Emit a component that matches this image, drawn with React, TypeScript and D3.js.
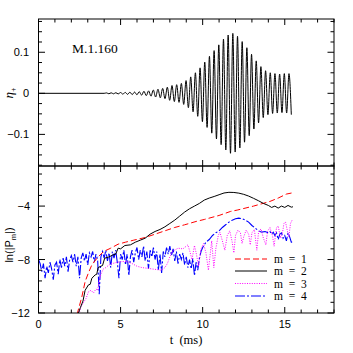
import * as d3 from "d3";
import React, { useRef, useEffect } from "react";

const W = 353,
  H = 353;
const left = 38.5,
  right = 334,
  topY = 19,
  midY = 166,
  botY = 313;

// top panel: waveform extrema (alternating +/-), sampled every half period from t = 4.0 ms
const etaT0 = 4.0;
const etaHalfPeriod = 0.1425;
const etaPeaks = [
  0.001, -0.001, 0.0012, -0.0012, 0.0015, -0.0015, 0.002, -0.002, 0.0022, -0.0025,
  0.0027, -0.003, 0.003, -0.0035, 0.004, -0.0045, 0.005, -0.0055, 0.006, -0.007,
  0.008, -0.009, 0.01, -0.011, 0.012, -0.013, 0.015, -0.017, 0.019, -0.02,
  0.021, -0.022, 0.024, -0.027, 0.031, -0.035, 0.04, -0.045, 0.05, -0.056,
  0.062, -0.069, 0.076, -0.083, 0.09, -0.097, 0.104, -0.111, 0.118, -0.125,
  0.132, -0.138, 0.142, -0.146, 0.146, -0.143, 0.139, -0.133, 0.126, -0.119,
  0.111, -0.103, 0.095, -0.087, 0.079, -0.072, 0.065, -0.059, 0.055, -0.052,
  0.05, -0.049, 0.048, -0.048, 0.047, -0.047, 0.048, -0.048, 0.048, -0.052,
];

// bottom panel: ln(|P_m|)
const m1T = [2.35, 2.64, 2.84, 3.04, 3.25, 3.56, 3.96, 4.4, 4.85, 5.3, 5.8, 6.5, 7.1, 7.7, 8.3, 8.9, 9.6, 10.1, 11.0, 11.7, 12.1, 13.1, 14.1, 14.6, 15.1, 15.5];
const m1V = [-12.1, -10.8, -9.65, -9.0, -8.4, -7.9, -7.4, -7.15, -6.85, -6.7, -6.55, -6.35, -6.1, -5.85, -5.6, -5.4, -5.15, -5.0, -4.7, -4.4, -4.3, -4.0, -3.65, -3.4, -3.1, -3.0];

const m2T = [2.4, 2.55, 2.71, 2.84, 3.04, 3.15, 3.25, 3.45, 3.55, 3.63, 3.8, 3.9, 4.03, 4.3, 4.54, 4.7, 4.85, 5.0, 5.26, 5.6, 5.9, 6.2, 6.5, 6.8, 7.1, 7.4, 7.7, 8.0, 8.3, 8.6, 8.9, 9.2, 9.5, 9.8, 10.1, 10.4, 10.7, 11.0, 11.3, 11.6, 11.9, 12.2, 12.5, 12.8, 13.1, 13.4, 13.7, 14.0, 14.2, 14.4, 14.6, 14.8, 15.0, 15.2, 15.4, 15.5];
const m2V = [-12.1, -11.6, -11.1, -10.3, -9.9, -9.85, -9.4, -9.15, -9.1, -8.6, -8.5, -8.45, -7.9, -7.8, -7.65, -7.6, -7.15, -7.2, -6.95, -6.9, -6.7, -6.55, -6.4, -6.1, -5.9, -5.75, -5.55, -5.3, -5.05, -4.75, -4.45, -4.2, -4.0, -3.8, -3.55, -3.4, -3.28, -3.15, -3.02, -2.97, -2.98, -3.03, -3.12, -3.25, -3.42, -3.6, -3.8, -3.95, -4.1, -4.0, -4.15, -4.0, -4.1, -3.95, -4.08, -4.05];

const m3T = [2.45, 2.6, 2.75, 2.9, 3.05, 3.2, 3.35, 3.5, 3.6, 3.7, 3.8, 3.95, 4.1, 4.3, 4.5, 4.8, 5.1, 5.4, 5.7, 6.0, 6.3, 6.6, 6.9, 7.2, 7.5, 7.7, 7.85, 8.0, 8.15, 8.5, 8.8, 9.1, 9.22, 9.35, 9.5, 9.62, 9.75, 9.9, 10.05, 10.2, 10.35, 10.55, 10.68, 10.8, 10.95, 11.05, 11.2, 11.35, 11.5, 11.65, 11.8, 11.9, 12.0, 12.15, 12.3, 12.4, 12.5, 12.65, 12.8, 12.9, 13.0, 13.15, 13.3, 13.4, 13.55, 13.7, 13.85, 13.95, 14.1, 14.25, 14.35, 14.5, 14.6, 14.75, 14.85, 14.95, 15.05, 15.15, 15.25, 15.35, 15.45];
const m3V = [-12.1, -11.5, -11.2, -10.9, -10.4, -10.3, -10.5, -10.2, -10.3, -9.6, -9.1, -8.7, -8.6, -8.4, -8.3, -8.2, -8.15, -8.15, -8.3, -8.5, -8.6, -8.65, -8.7, -8.75, -8.8, -8.6, -8.3, -7.8, -7.4, -7.15, -7.2, -6.9, -7.4, -8.0, -6.95, -7.6, -8.5, -7.2, -6.8, -7.5, -8.8, -6.6, -8.6, -7.2, -6.2, -5.95, -6.6, -7.3, -6.2, -5.85, -6.7, -7.5, -6.2, -5.8, -6.0, -6.8, -6.3, -5.8, -6.1, -6.9, -6.0, -5.75, -7.3, -6.0, -5.7, -6.4, -6.9, -5.9, -5.6, -6.2, -7.0, -5.6, -5.5, -6.4, -6.1, -5.3, -5.2, -5.8, -6.3, -5.3, -5.05];

const m4T = [
  0.0, 0.1, 0.2, 0.3, 0.4, 0.5, 0.6, 0.7, 0.8, 0.9, 1.0, 1.1, 1.2, 1.3, 1.4, 1.5, 1.6, 1.7, 1.8, 1.9,
  2.0, 2.1, 2.2, 2.3, 2.4, 2.5, 2.6, 2.7, 2.8, 2.9, 3.0, 3.1, 3.2, 3.3, 3.4, 3.5, 3.6, 3.7, 3.8, 3.9,
  4.0, 4.1, 4.2, 4.3, 4.4, 4.5, 4.6, 4.7, 4.8, 4.9, 5.0, 5.1, 5.2, 5.3, 5.4, 5.5, 5.6, 5.7, 5.8, 5.9,
  6.0, 6.1, 6.2, 6.3, 6.4, 6.5, 6.6, 6.7, 6.8, 6.9, 7.0, 7.1, 7.2, 7.3, 7.4, 7.5, 7.6, 7.7, 7.8, 7.9,
  8.0, 8.1, 8.2, 8.3, 8.4, 8.5, 8.6, 8.7, 8.8, 8.9, 9.0, 9.1, 9.2, 9.3, 9.4, 9.5, 9.6, 9.7, 9.8, 9.9,
  10.0, 10.2, 10.4, 10.6, 10.8, 11.0, 11.2, 11.4, 11.6, 11.8, 12.0, 12.2, 12.4, 12.6, 12.8, 13.0, 13.2, 13.4, 13.6, 13.8,
  14.0, 14.1, 14.2, 14.3, 14.4, 14.5, 14.6, 14.7, 14.8, 14.9, 15.0, 15.1, 15.2, 15.3, 15.4, 15.45,
];
const m4V = [
  -8.0, -8.3, -8.9, -8.3, -9.4, -8.5, -9.0, -8.2, -8.7, -9.5, -8.4, -8.2, -9.1, -8.0, -8.6, -7.9, -8.5, -7.8, -8.9, -8.0,
  -7.7, -8.2, -7.6, -8.5, -7.8, -9.4, -7.9, -7.5, -8.1, -7.6, -8.4, -7.5, -7.8, -7.4, -8.2, -7.6, -8.0, -10.6, -7.8, -7.4,
  -7.9, -7.3, -8.1, -7.5, -8.6, -7.4, -7.9, -7.3, -8.2, -9.4, -7.6, -8.0, -7.3, -8.4, -7.6, -9.2, -7.8, -7.3, -8.2, -7.5,
  -7.1, -8.0, -7.3, -7.8, -7.0, -8.1, -7.4, -8.7, -7.3, -7.8, -7.1, -8.0, -7.4, -8.8, -7.6, -9.0, -7.4, -7.8, -7.1, -7.6,
  -7.0, -7.7, -7.2, -8.1, -7.4, -8.3, -7.6, -8.0, -7.5, -8.4, -7.8, -8.6, -8.0, -8.7, -7.9, -9.2, -8.2, -8.8, -7.9, -7.4,
  -7.1, -6.7, -6.5, -6.2, -6.0, -5.85, -5.6, -5.4, -5.2, -5.05, -4.95, -4.9, -4.95, -5.05, -5.2, -5.45, -5.65, -5.85, -5.95, -5.9,
  -6.0, -5.9, -6.1, -5.95, -6.2, -6.0, -6.5, -6.1, -6.0, -6.4, -6.2, -6.6, -6.0, -6.3, -6.7, -6.7,
];

const legendLabels = ["m  =  1", "m  =  2", "m  =  3", "m  =  4"];
const xTickLabels = [0, 5, 10, 15];
const topTickLabels = [0.1, 0, -0.1];
const botTickLabels = [-4, -8, -12];

const sans = "'Liberation Sans', Arial, sans-serif";
const serif = "'Liberation Serif', 'Times New Roman', serif";

export default function App() {
  const ref = useRef(null);

  useEffect(() => {
    const svg = d3.select(ref.current);
    svg.selectAll("*").remove();

    const x = d3.scaleLinear().domain([0, 18]).range([left, right]);
    const yT = d3.scaleLinear().domain([-0.177, 0.181]).range([midY, topY]);
    const yB = d3.scaleLinear().domain([-12, -1]).range([botY, midY]);

    const defs = svg.append("defs");
    defs.append("clipPath").attr("id", "clipB")
      .append("rect").attr("x", left).attr("y", midY).attr("width", right - left).attr("height", botY - midY);

    // waveform
    const wave = [[0, 0], [etaT0, 0]].concat(
      etaPeaks.map((v, i) => [etaT0 + (i + 1) * etaHalfPeriod, v])
    );
    svg.append("path")
      .attr("d", d3.line().x((d) => x(d[0])).y((d) => yT(d[1])).curve(d3.curveMonotoneX)(wave))
      .attr("fill", "none").attr("stroke", "#000").attr("stroke-width", 1);

    svg.append("text").attr("x", 72).attr("y", 53).attr("font-family", serif).attr("font-size", 13.5)
      .text("M.1.160");

    // bottom series
    const series = [
      { t: m1T, v: m1V, color: "#ff0000", dash: "6,3", w: 1 },
      { t: m2T, v: m2V, color: "#000000", dash: null, w: 1 },
      { t: m3T, v: m3V, color: "#ff00ff", dash: "1,1.4", w: 1 },
      { t: m4T, v: m4V, color: "#0000ff", dash: "10,2,2,2", w: 1.1 },
    ];
    const gB = svg.append("g").attr("clip-path", "url(#clipB)");
    const line = d3.line().x((d) => x(d[0])).y((d) => yB(d[1]));
    // draw blue first so others sit above it
    [3, 2, 0, 1].forEach((k) => {
      const s = series[k];
      gB.append("path")
        .attr("d", line(s.t.map((t, i) => [t, s.v[i]])))
        .attr("fill", "none").attr("stroke", s.color).attr("stroke-width", s.w)
        .attr("stroke-dasharray", s.dash);
    });

    // legend
    const legY = [259, 271, 283.5, 296];
    series.forEach((s, i) => {
      svg.append("line").attr("x1", 235).attr("x2", 267).attr("y1", legY[i]).attr("y2", legY[i])
        .attr("stroke", s.color).attr("stroke-width", s.w).attr("stroke-dasharray", s.dash);
      svg.append("text").attr("x", 274).attr("y", legY[i] + 4).attr("font-family", serif)
        .attr("font-size", 11.5).style("white-space", "pre").text(legendLabels[i]);
    });

    // frames
    [[topY, midY], [midY, botY]].forEach(([a, b]) => {
      svg.append("rect").attr("x", left).attr("y", a).attr("width", right - left).attr("height", b - a)
        .attr("fill", "none").attr("stroke", "#000").attr("stroke-width", 1);
    });

    const tick = (x1, y1, x2, y2) =>
      svg.append("line").attr("x1", x1).attr("y1", y1).attr("x2", x2).attr("y2", y2)
        .attr("stroke", "#000").attr("stroke-width", 1);

    // x ticks, both panels, top and bottom edges
    d3.range(0, 19).forEach((t) => {
      const len = t % 5 === 0 ? 6 : 3.5;
      const px = x(t);
      [topY, midY].forEach((yy) => tick(px, yy, px, yy + len));
      [midY, botY].forEach((yy) => tick(px, yy, px, yy - len));
    });

    // y ticks top panel
    d3.range(-7, 8).forEach((k) => {
      const v = k * 0.025;
      const len = k % 4 === 0 ? 6.5 : 3.5;
      const py = yT(v);
      tick(left, py, left + len, py);
      tick(right, py, right - len, py);
    });
    // y ticks bottom panel
    d3.range(0, 14).forEach((k) => {
      const v = -12 + k * 0.8;
      const len = k % 5 === 0 ? 6.5 : 3.5;
      const py = yB(v);
      tick(left, py, left + len, py);
      tick(right, py, right - len, py);
    });

    const fmt = (v) => (v < 0 ? "\u2212" + Math.abs(v) : String(v));
    topTickLabels.forEach((v) => {
      svg.append("text").attr("x", 29).attr("y", yT(v) + 4).attr("text-anchor", "end")
        .attr("font-family", sans).attr("font-size", 11).text(fmt(v));
    });
    botTickLabels.forEach((v) => {
      svg.append("text").attr("x", 30).attr("y", yB(v) + 4).attr("text-anchor", "end")
        .attr("font-family", sans).attr("font-size", 11).text(fmt(v));
    });
    xTickLabels.forEach((v) => {
      svg.append("text").attr("x", x(v)).attr("y", 328).attr("text-anchor", "middle")
        .attr("font-family", sans).attr("font-size", 11).text(String(v));
    });

    svg.append("text").attr("x", 186).attr("y", 344).attr("text-anchor", "middle")
      .attr("font-family", serif).attr("font-size", 12.5).style("white-space", "pre").text("t  (ms)");

    // y labels
    const eta = svg.append("text").attr("transform", `translate(13,93) rotate(-90)`)
      .attr("text-anchor", "middle").attr("font-family", serif).attr("font-size", 13);
    eta.append("tspan").attr("font-style", "italic").text("\u03b7");
    eta.append("tspan").attr("font-size", 8).attr("dy", 3).text("+");

    const ln = svg.append("text").attr("transform", `translate(13,245) rotate(-90)`)
      .attr("text-anchor", "middle").attr("font-family", sans).attr("font-size", 11);
    ln.append("tspan").text("ln(|P");
    ln.append("tspan").attr("font-size", 7.5).attr("dy", 2.5).text("m");
    ln.append("tspan").attr("dy", -2.5).text("|)");
  }, []);

  return (
    <svg ref={ref} width={W} height={H} style={{ position: "absolute", left: 0, top: 0, background: "#fff" }} />
  );
}
